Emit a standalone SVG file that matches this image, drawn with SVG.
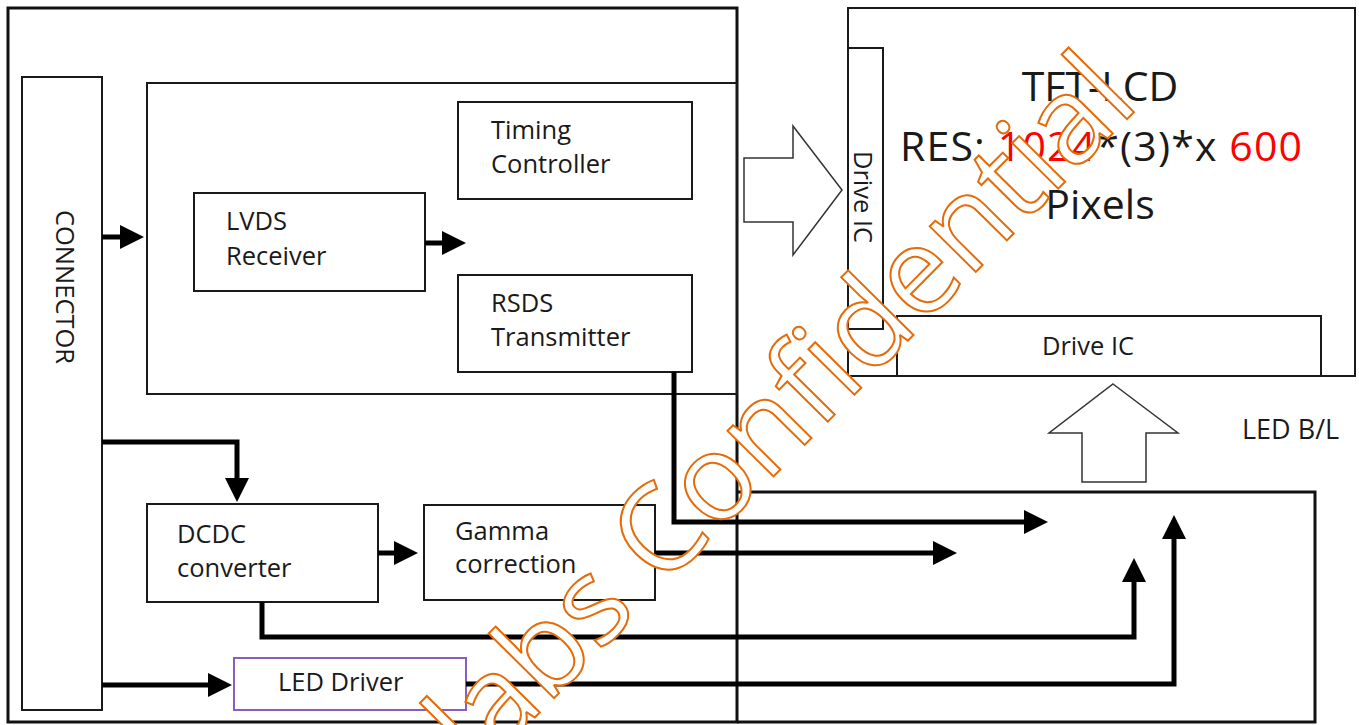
<svg xmlns="http://www.w3.org/2000/svg" width="1359" height="725" viewBox="0 0 1359 725">
<style>
.t{font-family:"Open Sans","Liberation Sans",sans-serif;font-size:25.5px;fill:#1a1a1a}
.box{fill:none;stroke:#1a1a1a;stroke-width:2}
.thick{fill:none;stroke:#111;stroke-width:3}
.blk{fill:#fff;stroke:#333;stroke-width:1.5;stroke-linejoin:miter}
.con{fill:none;stroke:#000;stroke-width:5;stroke-linejoin:miter}
.big{font-family:"Open Sans","Liberation Sans",sans-serif;font-size:41px;fill:#1a1a1a}
.wm{font-family:"Open Sans","Liberation Sans",sans-serif;font-size:121px;fill:#fff;stroke:#E46C0A;stroke-width:2}
</style>
<defs>
<marker id="ah" viewBox="0 0 24 24" refX="2" refY="12" markerWidth="24" markerHeight="24" markerUnits="userSpaceOnUse" orient="auto">
<path d="M0,0 L24,12 L0,24 z" fill="#000"/>
</marker>
</defs>
<rect width="1359" height="725" fill="#fff"/>

<g id="board">
<path class="thick" d="M8,8 H737 V722 H8 Z"/>
<path class="thick" d="M737,492 H1315 V722 H737"/>
</g>

<g id="controller-block">
<rect class="box" x="147" y="83" width="590" height="311"/>
</g>

<g id="connector">
<rect class="box" x="22" y="77" width="80" height="633"/>
<text class="t" text-anchor="middle" transform="translate(56,287) rotate(90)">CONNECTOR</text>
</g>

<g id="lvds">
<rect class="box" x="194" y="193" width="231" height="98"/>
<text class="t" x="226" y="230">LVDS</text>
<text class="t" x="226" y="265">Receiver</text>
</g>

<g id="timing">
<rect class="box" x="458" y="102" width="234" height="97"/>
<text class="t" x="491" y="139">Timing</text>
<text class="t" x="491" y="173">Controller</text>
</g>

<g id="rsds">
<rect class="box" x="458" y="275" width="234" height="97"/>
<text class="t" x="491" y="312">RSDS</text>
<text class="t" x="491" y="346">Transmitter</text>
</g>

<g id="dcdc">
<rect class="box" x="147" y="504" width="231" height="98"/>
<text class="t" x="177" y="543">DCDC</text>
<text class="t" x="177" y="577">converter</text>
</g>

<g id="gamma">
<rect class="box" x="424" y="505" width="231" height="95"/>
<text class="t" x="455" y="540">Gamma</text>
<text class="t" x="455" y="573">correction</text>
</g>

<g id="led-driver">
<rect x="234" y="658" width="232" height="52" fill="none" stroke="#8a5cc4" stroke-width="2"/>
<text class="t" x="278" y="691">LED Driver</text>
</g>

<g id="panel">
<rect class="box" x="848" y="8" width="507" height="368"/>
<text class="big" x="1100" y="101" text-anchor="middle">TFT-LCD</text>
<text class="big" x="900" y="161" textLength="402" lengthAdjust="spacing">RES: <tspan fill="#ff0000">1024</tspan>*(3)*x <tspan fill="#ff0000">600</tspan></text>
<text class="big" x="1100" y="219" text-anchor="middle">Pixels</text>
</g>

<g id="drive-ic-left">
<rect class="box" x="848" y="48" width="35" height="281"/>
<text class="t" text-anchor="middle" transform="translate(854,197) rotate(90)">Drive IC</text>
</g>

<g id="drive-ic-bottom">
<rect class="box" x="897" y="316" width="424" height="60"/>
<text class="t" x="1088" y="355" text-anchor="middle">Drive IC</text>
</g>

<g id="block-arrows">
<polygon class="blk" points="744,158 793,158 793,126 842,190 793,255 793,222 744,222"/>
<polygon class="blk" points="1113,384 1178,433 1146,433 1146,482 1082,482 1082,433 1049,433"/>
</g>

<g id="led-bl">
<text class="t" x="1242" y="439" style="font-size:27px">LED B/L</text>
</g>

<g id="connectors">
<path class="con" d="M102,237 H122" marker-end="url(#ah)"/>
<path class="con" d="M425,243 H444" marker-end="url(#ah)"/>
<path class="con" d="M102,442 H237 V480" marker-end="url(#ah)"/>
<path class="con" d="M378,553 H396" marker-end="url(#ah)"/>
<path class="con" d="M102,685 H210" marker-end="url(#ah)"/>
<path class="con" d="M674,372 V522 H1026" marker-end="url(#ah)"/>
<path class="con" d="M655,553 H935" marker-end="url(#ah)"/>
<path class="con" d="M262,602 V637 H1134 V580" marker-end="url(#ah)"/>
<path class="con" d="M466,684 H1174 V537" marker-end="url(#ah)"/>
</g>

<g id="watermark">
<text class="wm" transform="translate(478,775) rotate(-45.3)">labs Confidential</text>
</g>
</svg>
